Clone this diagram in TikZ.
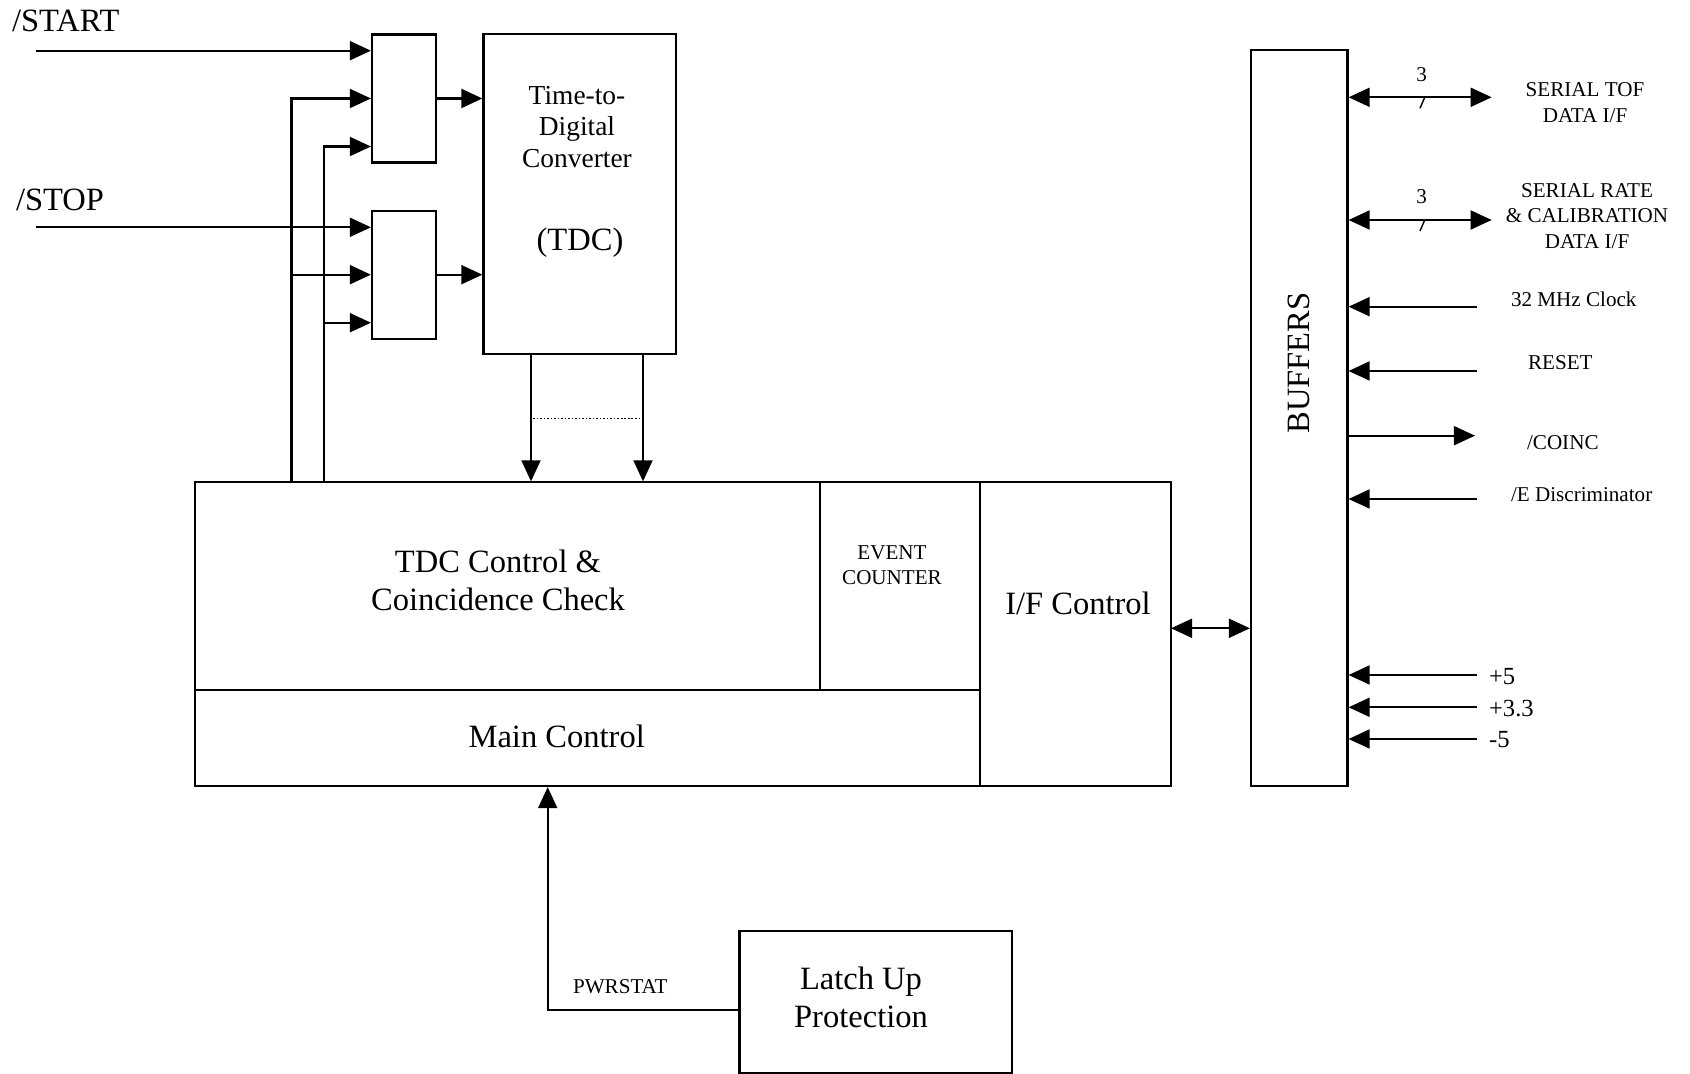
\documentclass[tikz,border=0pt]{standalone}
\usepackage{fontspec}
\setmainfont{Liberation Serif}
\usetikzlibrary{arrows.meta}

\begin{document}
\begin{tikzpicture}[x=.01cm,y=-.01cm,line width=.6pt,
  blk/.style={draw,inner sep=0},
  txt/.style={inner sep=0,align=center},
  big/.style={txt,font=\fontsize{9.25}{10.7}\selectfont},
  mid/.style={txt,font=\fontsize{7.8}{9}\selectfont},
  sml/.style={txt,font=\fontsize{6}{7.2}\selectfont},
  arr/.style={-{Triangle[length=6pt,width=5.4pt]}},
  darr/.style={{Triangle[length=6pt,width=5.4pt]}-{Triangle[length=6pt,width=5.4pt]}}]
\useasboundingbox (0,0) rectangle (1690,1074);
\node[blk,minimum width=.64cm,minimum height=1.28cm] (gate1) at (404,98.5) {};
\node[blk,minimum width=.64cm,minimum height=1.28cm] (gate2) at (404,274.7) {};
\node[blk,minimum width=1.925cm,minimum height=3.2cm] (tdc) at (579.75,194.3) {};
\node[blk,minimum width=6.246cm,minimum height=2.075cm] (tdcctl) at (507.7,586.25) {};
\node[blk,minimum width=1.6cm,minimum height=2.075cm] (evcnt) at (900,586.25) {};
\node[blk,minimum width=7.846cm,minimum height=.96cm] (mainctl) at (587.7,738) {};
\node[blk,minimum width=1.91cm,minimum height=3.035cm] (ifctl) at (1075.5,634.25) {};
\node[blk,minimum width=.965cm,minimum height=7.352cm] (buffers) at (1299.25,418.1) {};
\node[blk,minimum width=2.724cm,minimum height=1.423cm] (latch) at (875.8,1001.85) {};

\node[big,anchor=west] (start) at (11,21) {/START};
\node[big,anchor=west] (stop) at (15,200) {/STOP};
\node[mid] (tdcname) at (577,127) {Time-to-\\Digital\\Converter};
\node[big] (tdcabbr) at (580,243) {(TDC)};
\node[big] (tdcctltxt) at (498,580.5) {TDC Control \&\\Coincidence Check};
\node[sml] (evcnttxt) at (892,565.5) {EVENT\\COUNTER};
\node[big] (mainctltxt) at (556.7,736.7) {Main Control};
\node[big] (ifctltxt) at (1078,603) {I/F Control};
\node[big,rotate=90] (buftxt) at (1299,363) {BUFFERS};
\node[big] (latchtxt) at (861,997.5) {Latch Up\\Protection};
\node[sml,anchor=west] (pwrstat) at (572,986.5) {PWRSTAT};

\coordinate (startin) at (35.7,50.7);
\coordinate (stopin) at (35.7,227.3);
\draw[arr] (startin) -- (startin -| gate1.west);
\draw[arr] (stopin) -- (stopin -| gate2.west);
\coordinate (fa) at (291.5,482.5);
\coordinate (fb) at (323.7,482.5);
\foreach \g in {gate1,gate2}{
\draw[arr] (fa) |- (\g.west);
\draw[arr] (fb) |- ([yshift=-.48cm]\g.west);
\draw[arr] (\g.east) -- (\g.east -| tdc.west);}
\coordinate (ta) at (531,354.3);
\coordinate (tb) at (643,354.3);
\draw[arr] (ta) -- (ta |- tdcctl.north);
\draw[arr] (tb) -- (tb |- tdcctl.north);
\coordinate (da) at (533,418.3);
\draw[line width=.4pt,dash pattern=on .45pt off .55pt] (da) -- (da -| tb);
\coordinate (ib) at (1171,628.3);
\draw[darr] (ib) -- (ib -| buffers.west);
\coordinate (pw) at (547.7,1010);
\draw[arr] (latch.west |- pw) -- (pw) -- (pw |- mainctl.south);

\coordinate (tof) at (1491.7,97.3);
\coordinate (rate) at (1491.7,220);
\draw[darr] (tof -| buffers.east) -- (tof);
\draw[darr] (rate -| buffers.east) -- (rate);
\draw[line width=.4pt] (1420,108.3) -- (1425,96.7) (1420,231) -- (1425,219.4);
\node[sml] (tofn) at (1421.7,75) {3};
\node[sml] (raten) at (1421.7,197) {3};
\node[sml] (toftxt) at (1585,102.5) {SERIAL TOF\\DATA I/F};
\node[sml] (ratetxt) at (1587,216) {SERIAL RATE\\\& CALIBRATION\\DATA I/F};
\foreach \y/\n in {306.7/clk,371/rst,499/disc,675/pa,707.3/pb,739/pc}{
\coordinate (in\n) at (1476.7,\y);
\draw[arr] (in\n) -- (in\n -| buffers.east);}
\coordinate (coinc) at (1475,435.7);
\draw[arr] (coinc -| buffers.east) -- (coinc);
\node[sml,anchor=west] (clktxt) at (1510,299) {32 MHz Clock};
\node[sml,anchor=west] (rsttxt) at (1527,362.7) {RESET};
\node[sml,anchor=west] (coinctxt) at (1526,443) {/COINC};
\node[sml,anchor=west] (disctxt) at (1510,495) {/E Discriminator};
\node[txt,font=\fontsize{7}{8}\selectfont,anchor=west] (patxt) at (1488,677) {+5};
\node[txt,font=\fontsize{7}{8}\selectfont,anchor=west] (pbtxt) at (1488,708.5) {+3.3};
\node[txt,font=\fontsize{7}{8}\selectfont,anchor=west] (pctxt) at (1488,740) {-5};
\end{tikzpicture}
\end{document}
